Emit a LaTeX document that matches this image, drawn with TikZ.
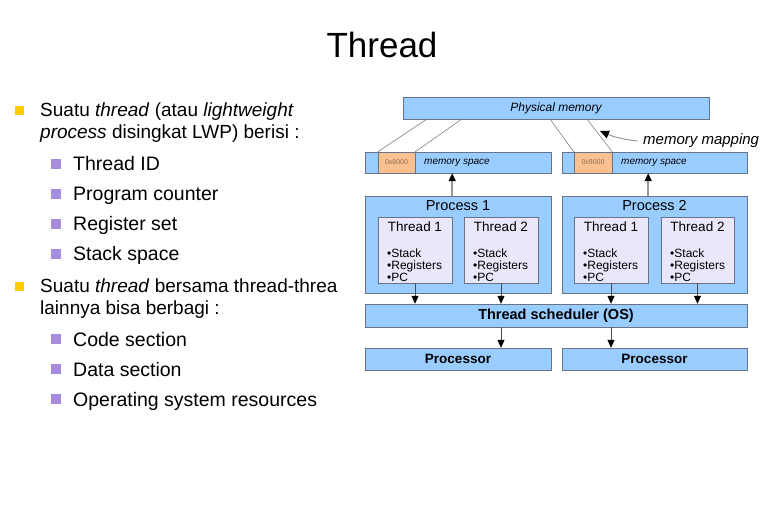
\documentclass[tikz,border=0pt]{standalone}
\usepackage{fontspec}
\setmainfont{Liberation Sans}
\usepackage{xcolor}
\usetikzlibrary{arrows.meta, positioning}
\definecolor{boxblue}{RGB}{153, 204, 255}
\definecolor{boxline}{RGB}{105, 115, 135}
\definecolor{threadfill}{RGB}{232, 232, 250}
\definecolor{addrorange}{RGB}{250, 192, 143}
\definecolor{addrtext}{RGB}{140, 110, 90}
\definecolor{bulletyellow}{RGB}{255, 204, 0}
\definecolor{bulletpurple}{RGB}{165, 140, 220}
\definecolor{shaftgrey}{RGB}{150, 150, 150}

\begin{document}
\begin{tikzpicture}[
    x=1pt, y=-1pt,
    title/.style={anchor=base, inner sep=0pt, font=\fontsize{35}{40}\selectfont},
    body/.style={anchor=base west, inner sep=0pt, align=left,
                 font=\fontsize{19}{22}\selectfont},
    sub/.style={anchor=base west, inner sep=0pt, font=\fontsize{19.5}{22}\selectfont},
    ybul/.style={rectangle, fill=bulletyellow, minimum size=9pt, inner sep=0pt},
    pbul/.style={rectangle, fill=bulletpurple, minimum size=10pt, inner sep=0pt},
    blk/.style={rectangle, draw=boxline, fill=boxblue, inner sep=0pt},
    addr/.style={rectangle, draw=boxline, fill=addrorange, inner sep=0pt,
                 minimum height=21pt, text=addrtext, font=\fontsize{7}{8}\selectfont},
    thr/.style={rectangle, draw=boxline, fill=threadfill, inner sep=0pt,
                minimum width=74pt, minimum height=66pt},
    thrlab/.style={inner sep=0pt, font=\fontsize{13.5}{15}\selectfont},
    regs/.style={anchor=base west, inner sep=0pt, align=left,
                 font=\fontsize{12}{12}\selectfont},
    maplink/.style={draw=shaftgrey!85!black, line width=0.6pt},
    uparr/.style={-{Triangle[length=8pt, width=7pt, color=black, fill=black]},
                  line width=1.6pt, draw=shaftgrey},
    arr/.style={-{Triangle[length=8pt, width=7pt, color=black, fill=black]},
                line width=0.8pt, draw=black!70}
]
\useasboundingbox (0,0) rectangle (765,510);

% title and text (multi-line nodes sit on their last line)
\node[title] (title) at (382,58) {Thread};

\node[ybul] (b1) at (19.5,110.5) {};
\node[body] (s1) at (40,139) {Suatu \textit{thread} (atau \textit{lightweight}\\\textit{process} disingkat LWP) berisi :};
\node[pbul] (b11) at (56,164) {};
\node[sub] (s11) at (73,171) {Thread ID};
\node[pbul] (b12) at (56,194) {};
\node[sub] (s12) at (73,201) {Program counter};
\node[pbul] (b13) at (56,224) {};
\node[sub] (s13) at (73,231) {Register set};
\node[pbul] (b14) at (56,254) {};
\node[sub] (s14) at (73,261) {Stack space};

\node[ybul] (b2) at (19.5,286.5) {};
\node[body] (s2) at (40,315) {Suatu \textit{thread} bersama thread-threa\\lainnya bisa berbagi :};
\node[pbul] (b21) at (56,339) {};
\node[sub] (s21) at (73,346) {Code section};
\node[pbul] (b22) at (56,369) {};
\node[sub] (s22) at (73,376) {Data section};
\node[pbul] (b23) at (56,399) {};
\node[sub] (s23) at (73,406) {Operating system resources};

% memory
\node[blk, minimum width=306pt, minimum height=22pt,
      font=\fontsize{12}{14}\selectfont\itshape] (phys) at (556,108) {Physical memory};
\node[blk, minimum width=186pt, minimum height=21pt] (mem1) at (458,162.5) {};
\node[blk, minimum width=185pt, minimum height=21pt] (mem2) at (654.5,162.5) {};
\node[addr, minimum width=37pt] (off1) at (396.5,162.5) {0x8000};
\node[addr, minimum width=38pt] (off2) at (593,162.5) {0x9000};
\node[anchor=west, inner sep=0pt, font=\fontsize{10}{12}\selectfont\itshape] (ms1) at (424,162.5) {memory space};
\node[anchor=west, inner sep=0pt, font=\fontsize{10}{12}\selectfont\itshape] (ms2) at (621,162.5) {memory space};

\coordinate (m1a) at (427,119);
\coordinate (m1b) at (462,119);
\coordinate (m2a) at (550,119);
\coordinate (m2b) at (587,119);
\draw[maplink] (m1a) -- (off1.north west);
\draw[maplink] (m1b) -- (off1.north east);
\draw[maplink] (m2a) -- (off2.north west);
\draw[maplink] (m2b) -- (off2.north east);

\node[anchor=west, inner sep=0pt, font=\fontsize{15}{18}\selectfont\itshape] (mmap) at (643,141) {memory mapping};
\coordinate (maptip) at (600,131);
\draw[-{Triangle[length=9pt, width=8pt, color=black, fill=black]}, line width=1pt, draw=shaftgrey]
    ([xshift=-6pt]mmap.west) to[bend left=8] (maptip);

% processes
\node[blk, minimum width=186pt, minimum height=97pt] (proc1) at (458,244.5) {};
\node[blk, minimum width=185pt, minimum height=97pt] (proc2) at (654.5,244.5) {};
\node[inner sep=0pt, font=\fontsize{14.5}{16}\selectfont] (p1lab) at (458,206) {Process 1};
\node[inner sep=0pt, font=\fontsize{14.5}{16}\selectfont] (p2lab) at (654.5,206) {Process 2};

\node[thr] (t11) at (415,250) {};
\node[thr] (t12) at (501,250) {};
\node[thr] (t21) at (611,250) {};
\node[thr, minimum width=73pt] (t22) at (697.5,250) {};

\node[thrlab] (t11lab) at (415,227) {Thread 1};
\node[thrlab] (t12lab) at (501,227) {Thread 2};
\node[thrlab] (t21lab) at (611,227) {Thread 1};
\node[thrlab] (t22lab) at (697.5,227) {Thread 2};

\node[regs] (r11) at (387,282) {•Stack\\•Registers\\•PC};
\node[regs] (r12) at (473,282) {•Stack\\•Registers\\•PC};
\node[regs] (r21) at (583,282) {•Stack\\•Registers\\•PC};
\node[regs] (r22) at (670,282) {•Stack\\•Registers\\•PC};

\draw[uparr] (t11.east |- proc1.north) -- (t11.east |- mem1.south);
\draw[uparr] (t21.east |- proc2.north) -- (t21.east |- mem2.south);

% scheduler and processors
\node[blk, minimum width=382pt, minimum height=23pt,
      font=\fontsize{14.5}{16}\selectfont\bfseries] (sched) at (556,315.5) {Thread scheduler (OS)};
\node[blk, minimum width=186pt, minimum height=22pt,
      font=\fontsize{13.5}{16}\selectfont\bfseries] (cpu1) at (458,359) {Processor};
\node[blk, minimum width=185pt, minimum height=22pt,
      font=\fontsize{13.5}{16}\selectfont\bfseries] (cpu2) at (654.5,359) {Processor};

\draw[arr] (t11.south) -- (t11 |- sched.north);
\draw[arr] (t12.south) -- (t12 |- sched.north);
\draw[arr] (t21.south) -- (t21 |- sched.north);
\draw[arr] (t22.south) -- (t22 |- sched.north);

\draw[arr] (t12 |- sched.south) -- (t12 |- cpu1.north);
\draw[arr] (t21 |- sched.south) -- (t21 |- cpu2.north);

\end{tikzpicture}
\end{document}
